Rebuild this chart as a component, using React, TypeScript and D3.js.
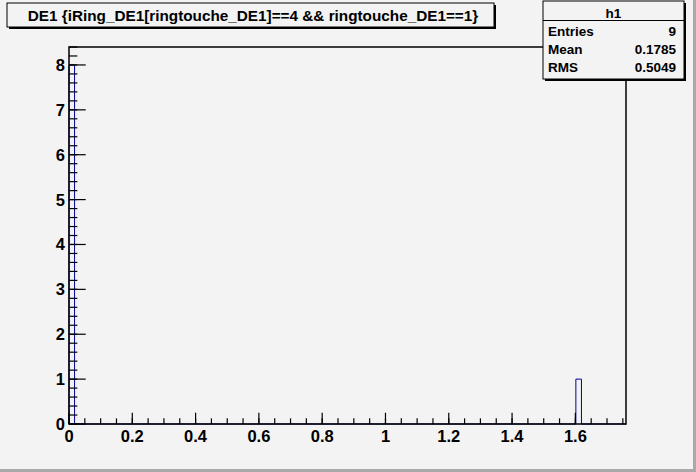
import * as d3 from 'd3'

// histogram definition
const nBins = 100
const xRange: [number, number] = [0, 1.76]
const filledBins = [0, 91]
const filledCounts = [8, 1]
const yMax = 8.4

const titleText = 'DE1 {iRing_DE1[ringtouche_DE1]==4 && ringtouche_DE1==1}'
const statsName = 'h1'
const statsLabels = ['Entries', 'Mean', 'RMS']
const statsValues = ['9', '0.1785', '0.5049']

const xMajorTicks = [0, 0.2, 0.4, 0.6, 0.8, 1, 1.2, 1.4, 1.6]
const yMajorTicks = [0, 1, 2, 3, 4, 5, 6, 7, 8]

const W = 696
const H = 472
const bg = '#f3f3f3'
const histColor = '#000099'
const font = '"Liberation Sans", Arial, Helvetica, sans-serif'

export default function App() {
  const frame = { left: 69, right: 626, top: 47, bottom: 424 }
  const x = d3.scaleLinear().domain(xRange).range([frame.left, frame.right])
  const y = d3.scaleLinear().domain([0, yMax]).range([frame.bottom, frame.top])

  const binW = (xRange[1] - xRange[0]) / nBins
  const counts = d3.range(nBins).map(i => {
    const k = filledBins.indexOf(i)
    return k >= 0 ? filledCounts[k] : 0
  })

  // step outline like ROOT's default histogram drawing
  const pts: [number, number][] = [[x(xRange[0]), y(0)]]
  counts.forEach((c, i) => {
    pts.push([x(xRange[0] + i * binW), y(c)])
    pts.push([x(xRange[0] + (i + 1) * binW), y(c)])
  })
  pts.push([x(xRange[1]), y(0)])
  const histPath = d3.line()(pts) ?? ''

  const xMinor = d3.range(0, xRange[1] + 1e-9, 0.05)
  const yMinor = d3.range(0, yMax + 1e-9, 0.2)
  const xTickLen = (frame.bottom - frame.top) * 0.03
  const yTickLen = (frame.right - frame.left) * 0.03

  const fmt = (v: number) => (Number.isInteger(v) ? String(v) : d3.format('.1f')(v))

  const sb = { x0: 543, x1: 684, y0: 1, y1: 79 }

  return (
    <div style={{ position: 'fixed', left: 0, top: 0 }}>
      <svg width={W} height={H} style={{ display: 'block' }} fontFamily={font}>
        <rect x={0} y={0} width={W} height={H} fill="#a9a9a9" />
        <rect x={0} y={0} width={W - 3} height={H - 3} fill={bg} />

        {/* histogram */}
        <path d={histPath} fill="none" stroke={histColor} strokeWidth={1} />

        {/* frame */}
        <rect
          x={frame.left}
          y={frame.top}
          width={frame.right - frame.left}
          height={frame.bottom - frame.top}
          fill="none"
          stroke="#000"
          strokeWidth={1.5}
        />

        {/* axis ticks */}
        <g stroke="#000" strokeWidth={1.2}>
          {xMinor.map((v, i) => (
            <line key={'xm' + i} x1={x(v)} x2={x(v)} y1={frame.bottom} y2={frame.bottom - xTickLen / 2} />
          ))}
          {xMajorTicks.map((v, i) => (
            <line key={'xM' + i} x1={x(v)} x2={x(v)} y1={frame.bottom} y2={frame.bottom - xTickLen} />
          ))}
          {yMinor.map((v, i) => (
            <line key={'ym' + i} x1={frame.left} x2={frame.left + yTickLen / 2} y1={y(v)} y2={y(v)} />
          ))}
          {yMajorTicks.map((v, i) => (
            <line key={'yM' + i} x1={frame.left} x2={frame.left + yTickLen} y1={y(v)} y2={y(v)} />
          ))}
        </g>

        {/* tick labels */}
        <g fontSize={16.5} fontWeight="bold" fill="#000">
          {xMajorTicks.map((v, i) => (
            <text key={'xl' + i} x={x(v)} y={frame.bottom + 18} textAnchor="middle">
              {fmt(v)}
            </text>
          ))}
          {yMajorTicks.map((v, i) => (
            <text key={'yl' + i} x={frame.left - 4} y={y(v) + 6} textAnchor="end">
              {fmt(v)}
            </text>
          ))}
        </g>

        {/* title box */}
        <rect x={9} y={5} width={487} height={24} fill="#000" />
        <rect x={7} y={3} width={487} height={24} fill={bg} stroke="#000" strokeWidth={1} />
        <text x={253} y={21} textAnchor="middle" fontSize={15.3} fontWeight="bold">
          {titleText}
        </text>

        {/* stats box */}
        <rect x={sb.x0 + 2} y={sb.y0 + 2} width={sb.x1 - sb.x0} height={sb.y1 - sb.y0} fill="#000" />
        <rect x={sb.x0} y={sb.y0} width={sb.x1 - sb.x0} height={sb.y1 - sb.y0} fill={bg} stroke="#000" strokeWidth={1} />
        <line x1={sb.x0} x2={sb.x1} y1={20.5} y2={20.5} stroke="#000" strokeWidth={1} />
        <text x={(sb.x0 + sb.x1) / 2} y={18} textAnchor="middle" fontSize={13.5} fontWeight="bold">
          {statsName}
        </text>
        {statsLabels.map((l, i) => (
          <g key={l} fontSize={13.5} fontWeight="bold">
            <text x={548} y={35.5 + i * 18.2}>
              {l}
            </text>
            <text x={676} y={35.5 + i * 18.2} textAnchor="end">
              {statsValues[i]}
            </text>
          </g>
        ))}
      </svg>
    </div>
  )
}
